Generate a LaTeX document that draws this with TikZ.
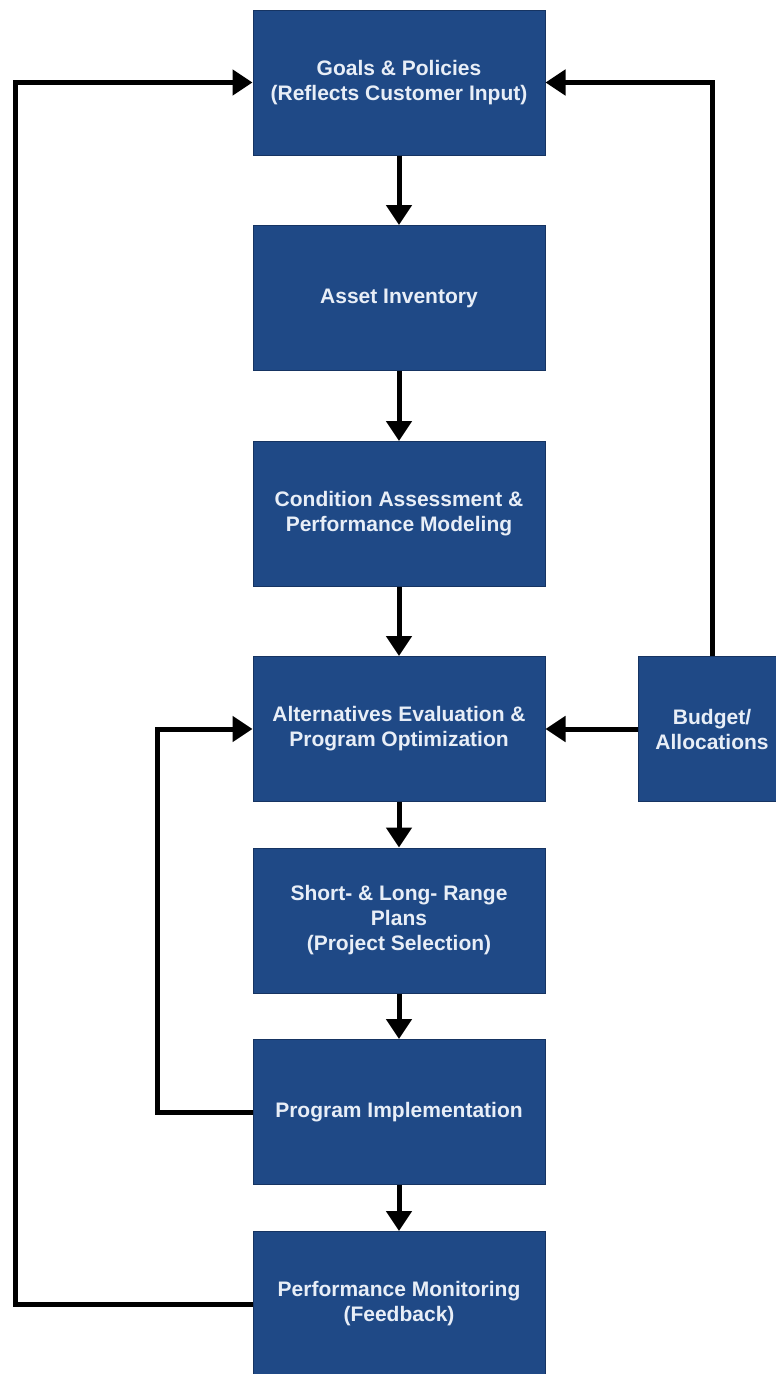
\documentclass[tikz,border=0pt]{standalone}
\usepackage{fontspec}
\setmainfont{Liberation Sans}
\usetikzlibrary{arrows.meta}
\definecolor{boxblue}{RGB}{31,73,134}
\definecolor{boxedge}{RGB}{22,52,98}
\definecolor{boxtext}{RGB}{232,238,247}
\tikzset{
  stage/.style={rectangle, fill=boxblue, draw=boxedge, line width=1pt,
    minimum width=292pt, minimum height=145pt, align=center,
    text=boxtext, font=\fontsize{21}{25}\selectfont\bfseries, inner sep=0pt},
  flow/.style={line width=5pt, -{Triangle[length=20pt,width=25pt]}},
}
\begin{document}
\begin{tikzpicture}[x=1pt,y=-1pt]
  \useasboundingbox (0,0) rectangle (776,1374);
  \fill[white] (0,0) rectangle (776,1374);
  % main column of stages
  \node[stage] (goals) at (399,82.5)  {Goals \& Policies\\(Reflects Customer Input)};
  \node[stage] (asset) at (399,298)   {Asset Inventory};
  \node[stage] (cond)  at (399,514)   {Condition Assessment \&\\Performance Modeling};
  \node[stage] (alt)   at (399,729)   {Alternatives Evaluation \&\\Program Optimization};
  \node[stage] (plans) at (399,920.5) {Short- \& Long- Range\\Plans\\(Project Selection)};
  \node[stage] (impl)  at (399,1112)  {Program Implementation};
  \node[stage] (perf)  at (399,1304)  {Performance Monitoring\\(Feedback)};
  % side input
  \node[stage, minimum width=148pt] (budget) at (712,729) {Budget/\\Allocations};
  % turning points of the feedback loops
  \coordinate (outerx) at (15,0);
  \coordinate (innerx) at (157,0);
  % downward flow
  \draw[flow] (goals) -- (asset);
  \draw[flow] (asset) -- (cond);
  \draw[flow] (cond) -- (alt);
  \draw[flow] (alt) -- (plans);
  \draw[flow] (plans) -- (impl);
  \draw[flow] (impl) -- (perf);
  % budget feeds optimisation and goals
  \draw[flow] (budget.west) -- (alt.east);
  \draw[flow] (budget.north) |- (goals.east);
  % feedback loops
  \draw[flow] (impl.west) -- (impl.west -| innerx) |- (alt.west);
  \draw[flow] (perf.west) -- (perf.west -| outerx) |- (goals.west);
\end{tikzpicture}
\end{document}
